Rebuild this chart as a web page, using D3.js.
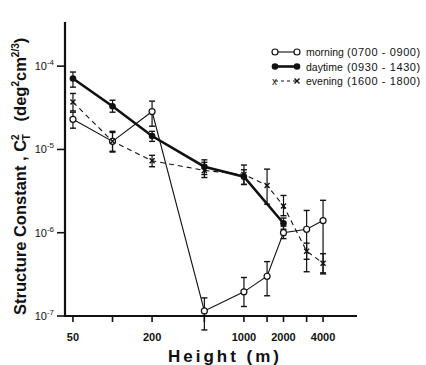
<!DOCTYPE html>
<html>
<head>
<meta charset="utf-8">
<script src="https://cdn.jsdelivr.net/npm/d3@7"></script>
<style>
  body { margin: 0; background: #fff; }
  text { font-family: "Liberation Sans", Arial, sans-serif; fill: #111; }
</style>
</head>
<body>
<svg id="chart" width="426" height="365"></svg>
<script>
// Structure constant vs height, three times of day

// heights (m)
const heights = [50, 100, 200, 500, 1000, 1500, 2000, 3000, 4000];
const dayHeights = [50, 100, 200, 500, 1000, 2000];

// morning (0700 - 0900)
const morning   = [2.3e-5, 1.25e-5, 2.85e-5, 1.15e-7, 1.95e-7, 3.0e-7, 1.0e-6, 1.1e-6, 1.4e-6];
const morningLo = [1.8e-5, 0.93e-5, 1.9e-5, 6.8e-8, 1.3e-7, 1.75e-7, 0.85e-6, 3.4e-7, 3.2e-7];
const morningHi = [2.8e-5, 1.65e-5, 3.8e-5, 1.65e-7, 2.9e-7, 4.5e-7, 1.2e-6, 1.85e-6, 2.45e-6];

// daytime (0930 - 1430)
const daytime   = [7.1e-5, 3.3e-5, 1.45e-5, 6.2e-6, 4.7e-6, 1.3e-6];
const daytimeLo = [5.6e-5, 2.8e-5, 1.25e-5, 5.0e-6, 3.8e-6, 1.1e-6];
const daytimeHi = [8.5e-5, 3.9e-5, 1.65e-5, 7.5e-6, 5.7e-6, 1.5e-6];

// evening (1600 - 1800)
const evening   = [3.7e-5, 1.25e-5, 7.3e-6, 5.6e-6, 5.0e-6, 3.7e-6, 2.1e-6, 6.0e-7, 4.3e-7];
const eveningLo = [2.9e-5, 0.95e-5, 6.2e-6, 4.6e-6, 3.8e-6, 2.2e-6, 1.6e-6, 4.8e-7, 3.3e-7];
const eveningHi = [4.7e-5, 1.6e-5, 8.5e-6, 7.0e-6, 6.5e-6, 5.8e-6, 2.8e-6, 7.5e-7, 5.6e-7];

// axis ticks
const xTicks = [50, 100, 200, 500, 1000, 1500, 2000, 3000, 4000];
const xLabels = [50, 200, 1000, 2000, 4000];
const yTicks = [1e-4, 1e-5, 1e-6, 1e-7];

const legendNames = ['morning', 'daytime', 'evening'];
const legendTimes = ['(0700 - 0900)', '(0930 - 1430)', '(1600 - 1800)'];

const svg = d3.select('#chart');

const x = d3.scaleLog()
  .domain([43.5, 7250])
  .range([65, 357]);

const y = d3.scaleLog()
  .domain([1e-7, 3.39e-4])
  .range([316, 22]);

const zip = (hs, v, lo, hi) => hs.map((h, i) => ({h, v: v[i], lo: lo[i], hi: hi[i]}));

const series = [
  {name: 'morning', data: zip(heights, morning, morningLo, morningHi), width: 1.1, dash: null, marker: 'open'},
  {name: 'daytime', data: zip(dayHeights, daytime, daytimeLo, daytimeHi), width: 2.6, dash: null, marker: 'dot'},
  {name: 'evening', data: zip(heights, evening, eveningLo, eveningHi), width: 1.1, dash: '5,4', marker: 'x'}
];

// axes
svg.append('line')
  .attr('x1', 65).attr('x2', 65)
  .attr('y1', y.range()[1]).attr('y2', y.range()[0] + 1)
  .attr('stroke', '#111').attr('stroke-width', 2.2);

svg.append('line')
  .attr('x1', 64).attr('x2', x.range()[1])
  .attr('y1', 316).attr('y2', 316)
  .attr('stroke', '#111').attr('stroke-width', 2.2);

svg.selectAll('.ytick')
  .data(yTicks)
  .enter().append('line')
    .attr('class', 'ytick')
    .attr('x1', 57).attr('x2', 65)
    .attr('y1', d => y(d)).attr('y2', d => y(d))
    .attr('stroke', '#111').attr('stroke-width', 1.6);

const yLab = svg.selectAll('.ylab')
  .data(yTicks)
  .enter().append('text')
    .attr('class', 'ylab')
    .attr('x', 54)
    .attr('y', d => y(d) + 4)
    .attr('text-anchor', 'end')
    .style('font-size', '11px');
yLab.append('tspan').text('10');
yLab.append('tspan')
  .attr('dy', -5)
  .style('font-size', '8px')
  .text(d => '-' + Math.round(-Math.log10(d)));

svg.selectAll('.xtick')
  .data(xTicks)
  .enter().append('line')
    .attr('class', 'xtick')
    .attr('x1', d => x(d)).attr('x2', d => x(d))
    .attr('y1', 316).attr('y2', 322)
    .attr('stroke', '#111').attr('stroke-width', 1.6);

svg.selectAll('.xlab')
  .data(xLabels)
  .enter().append('text')
    .attr('class', 'xlab')
    .attr('x', d => x(d))
    .attr('y', 341)
    .attr('text-anchor', 'middle')
    .style('font-size', '11px')
    .style('font-weight', 'bold')
    .text(d => d);

// axis titles
svg.append('text')
  .attr('x', 225).attr('y', 362)
  .attr('text-anchor', 'middle')
  .style('font-size', '17px')
  .style('font-weight', 'bold')
  .style('letter-spacing', '3px')
  .text('Height  (m)');

const yTitle = svg.append('text')
  .attr('transform', 'translate(26,315) rotate(-90)')
  .style('font-size', '16.5px')
  .style('font-weight', 'bold');
yTitle.append('tspan').text('Structure Constant , C');
yTitle.append('tspan').attr('dy', -7).style('font-size', '10px').text('2');
yTitle.append('tspan').attr('dx', -6).attr('dy', 11).style('font-size', '10px').text('T');
yTitle.append('tspan').attr('dy', -4).text('\u2002 (deg');
yTitle.append('tspan').attr('dy', -7).style('font-size', '10px').text('2');
yTitle.append('tspan').attr('dy', 7).text('cm');
yTitle.append('tspan').attr('dy', -7).style('font-size', '10px').text('2/3');
yTitle.append('tspan').attr('dy', 7).text(')');

// lines
const line = d3.line()
  .x(d => x(d.h))
  .y(d => y(d.v));

const plot = svg.append('g').attr('class', 'plot');

series.forEach(s => {
  plot.append('path')
    .datum(s.data)
    .attr('d', line)
    .attr('fill', 'none')
    .attr('stroke', '#111')
    .attr('stroke-width', s.width)
    .attr('stroke-dasharray', s.dash);

  // error bars
  const eb = plot.append('g').selectAll('g')
    .data(s.data)
    .enter().append('g');
  eb.append('line')
    .attr('x1', d => x(d.h)).attr('x2', d => x(d.h))
    .attr('y1', d => y(d.hi)).attr('y2', d => y(d.lo))
    .attr('stroke', '#111').attr('stroke-width', 1.2);
  ['hi', 'lo'].forEach(k => eb.append('line')
    .attr('x1', d => x(d.h) - 3).attr('x2', d => x(d.h) + 3)
    .attr('y1', d => y(d[k])).attr('y2', d => y(d[k]))
    .attr('stroke', '#111').attr('stroke-width', 1.4));
});

const drawMarker = (g, type, cx, cy) => {
  if (type === 'open') {
    g.append('circle').attr('cx', cx).attr('cy', cy).attr('r', 3)
      .attr('fill', '#fff').attr('stroke', '#111').attr('stroke-width', 1.2);
  } else if (type === 'dot') {
    g.append('circle').attr('cx', cx).attr('cy', cy).attr('r', 3.3)
      .attr('fill', '#111');
  } else {
    g.append('path')
      .attr('d', `M${cx - 2.5},${cy - 2.5}L${cx + 2.5},${cy + 2.5}M${cx - 2.5},${cy + 2.5}L${cx + 2.5},${cy - 2.5}`)
      .attr('stroke', '#111').attr('stroke-width', 1.4);
  }
};

series.forEach(s => s.data.forEach(d => drawMarker(plot, s.marker, x(d.h), y(d.v))));

// legend
const legend = svg.append('g').attr('class', 'legend');
series.forEach((s, i) => {
  const ly = 52 + i * 14.5;
  legend.append('line')
    .attr('x1', 275).attr('x2', 297)
    .attr('y1', ly).attr('y2', ly)
    .attr('stroke', '#111')
    .attr('stroke-width', s.width)
    .attr('stroke-dasharray', s.dash ? '3,3' : null);
  if (s.marker === 'x') {
    legend.append('text').attr('x', 272).attr('y', ly + 3.5)
      .style('font-size', '10px').text('x');
    drawMarker(legend, 'x', 297, ly);
  } else {
    drawMarker(legend, s.marker, 275, ly);
    drawMarker(legend, s.marker, 297, ly);
  }
  legend.append('text')
    .attr('x', 306).attr('y', ly + 4)
    .style('font-size', '10.5px')
    .text(legendNames[i]);
  legend.append('text')
    .attr('x', 347).attr('y', ly + 4)
    .style('font-size', '11px')
    .style('letter-spacing', '0.6px')
    .text(legendTimes[i]);
});
</script>
</body>
</html>
